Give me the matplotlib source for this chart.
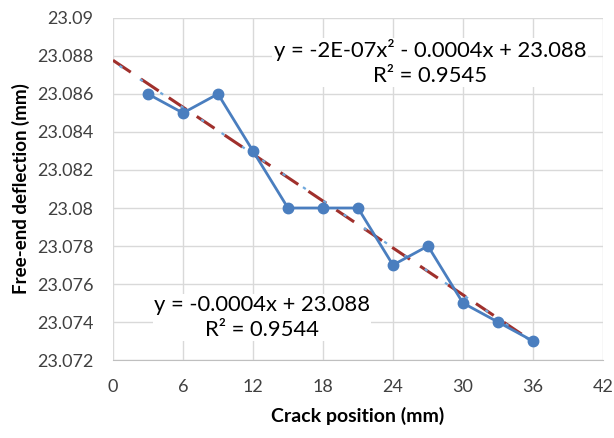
import numpy as np
import matplotlib.pyplot as plt

plt.rcParams['font.family'] = ['Lato', 'DejaVu Sans']

# data
crack_pos = [3, 6, 9, 12, 15, 18, 21, 24, 27, 30, 33, 36]
deflection = [23.086, 23.085, 23.086, 23.083, 23.080, 23.080,
              23.080, 23.077, 23.078, 23.075, 23.074, 23.073]

x_ticks = [0, 6, 12, 18, 24, 30, 36, 42]
y_ticks = [23.072, 23.074, 23.076, 23.078, 23.08, 23.082, 23.084, 23.086, 23.088, 23.09]
y_labels = ["23.072", "23.074", "23.076", "23.078", "23.08", "23.082",
            "23.084", "23.086", "23.088", "23.09"]

eq_poly = "y = -2E-07x² - 0.0004x + 23.088\nR² = 0.9545"
eq_lin = "y = -0.0004x + 23.088\nR² = 0.9544"

fig = plt.figure(figsize=(6.14, 4.38), dpi=100)
ax = fig.add_axes([0.184, 0.178, 0.798, 0.781])

# trendlines (backward forecast to x=0)
xs = np.linspace(0, 36, 100)
lin = np.polyfit(crack_pos, deflection, 1)
poly = np.polyfit(crack_pos, deflection, 2)
ax.plot(xs, np.polyval(lin, xs), color="#A0302C", lw=2.2, ls=(0, (7, 4)), zorder=3)
ax.plot(xs, np.polyval(poly, xs), color="#6FA8DC", lw=1.6, ls=(7.5, (1.5, 9.5)), zorder=3)

ax.plot(crack_pos, deflection, color="#4A7EBF", lw=2, marker="o", ms=7.5, zorder=4)

ax.set_xlim(0, 42)
ax.set_ylim(23.072, 23.09)
ax.set_xticks(x_ticks)
ax.set_yticks(y_ticks)
ax.set_yticklabels(y_labels)
ax.grid(True, color="#D9D9D9", lw=1)
ax.set_axisbelow(True)
for s in ["top", "right", "left"]:
    ax.spines[s].set_visible(False)
ax.spines["bottom"].set_color("#BFBFBF")
ax.tick_params(length=0, labelsize=13, colors="#404040")
ax.tick_params(axis="y", pad=14)
ax.tick_params(axis="x", pad=14)

ax.set_xlabel("Crack position (mm)", fontsize=14, fontweight="bold", labelpad=8)
ax.set_ylabel("Free-end deflection (mm)", fontsize=13.5, fontweight="bold", labelpad=5)

box = dict(facecolor="white", edgecolor="none", pad=1)
ax.text(0.647, 0.870, eq_poly, transform=ax.transAxes, fontsize=15.8, ha="center",
        va="center", linespacing=1.3, bbox=box, zorder=5)
ax.text(0.304, 0.124, eq_lin, transform=ax.transAxes, fontsize=15.8, ha="center",
        va="center", linespacing=1.3, bbox=box, zorder=5)

fig.savefig("out.png", dpi=100)
